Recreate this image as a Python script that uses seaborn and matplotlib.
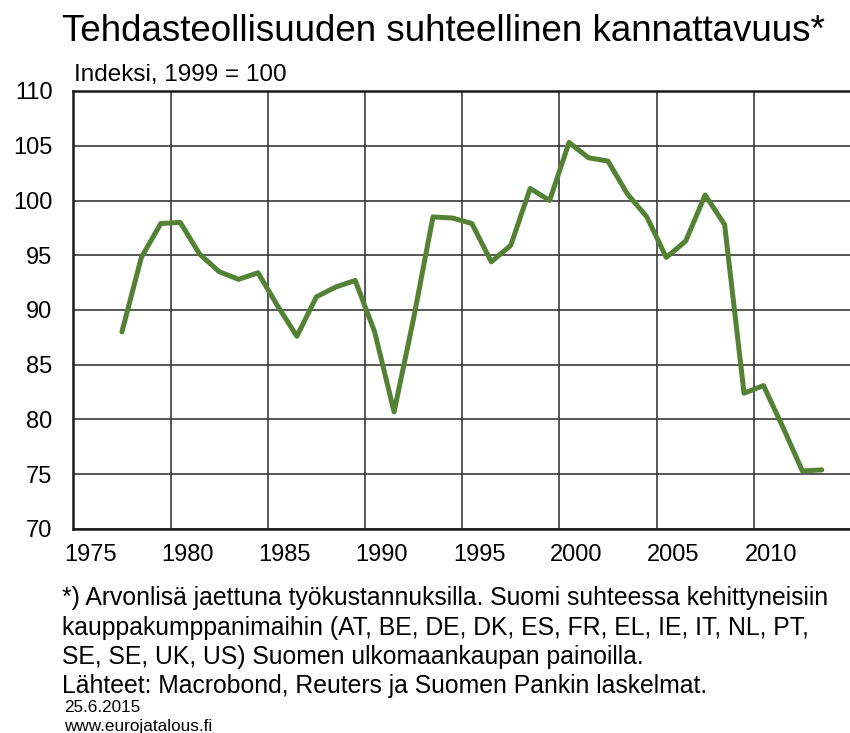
import numpy as np
import pandas as pd
import seaborn as sns
import matplotlib.pyplot as plt
import matplotlib.transforms as mtransforms
from matplotlib.ticker import MultipleLocator

years = list(range(1977, 2014))
kannattavuus = [88.0, 94.8, 97.9, 98.0, 95.1, 93.5, 92.8, 93.4, 90.4, 87.6,
                91.2, 92.1, 92.7, 88.0, 80.7, 89.2, 98.5, 98.4, 97.9, 94.4,
                95.9, 101.1, 100.0, 105.3, 103.9, 103.6, 100.6, 98.5, 94.8, 96.3,
                100.5, 97.8, 82.4, 83.1, 79.3, 75.3, 75.4]
x_ticks = [1975, 1980, 1985, 1990, 1995, 2000, 2005, 2010]
y_ticks = [70, 75, 80, 85, 90, 95, 100, 105, 110]

title = "Tehdasteollisuuden suhteellinen kannattavuus*"
unit = "Indeksi, 1999 = 100"
footnote = ["*) Arvonlisä jaettuna työkustannuksilla. Suomi suhteessa kehittyneisiin",
            "kauppakumppanimaihin (AT, BE, DE, DK, ES, FR, EL, IE, IT, NL, PT,",
            "SE, SE, UK, US) Suomen ulkomaankaupan painoilla.",
            "Lähteet: Macrobond, Reuters ja Suomen Pankin laskelmat."]
date = "25.6.2015"
site = "www.eurojatalous.fi"

df = pd.DataFrame({"vuosi": years, "indeksi": kannattavuus})
# annual values plotted at mid-year
df["x"] = df["vuosi"] + 0.5

sns.set_style("white")
plt.rcParams['font.family'] = ['Liberation Sans', 'DejaVu Sans']
plt.rcParams['text.color'] = 'black'
plt.rcParams['xtick.color'] = 'black'
plt.rcParams['ytick.color'] = 'black'

fig = plt.figure(figsize=(8.5, 7.33), dpi=100)
ax = fig.add_axes([73.3 / 850, 1 - 529 / 733, 1 - 73.3 / 850, (529 - 91) / 733])

sns.lineplot(data=df, x="x", y="indeksi", ax=ax, color="#548235", linewidth=3.6)

ax.set_xlim(1975, 2014.95)
ax.set_ylim(70, 110)
ax.set_xticks(x_ticks)
ax.set_yticks(y_ticks)
ax.xaxis.set_minor_locator(MultipleLocator(1))
ax.grid(True, which="major", color="#3a3a3a", linewidth=1.2)
ax.tick_params(axis="x", which="major", length=0, labelsize=17, pad=11)
ax.tick_params(axis="x", which="minor", direction="in", length=5, width=1, color="#333333")
ax.tick_params(axis="y", length=0, labelsize=17, pad=15)
ax.set_xlabel("")
ax.set_ylabel("")
for lab in ax.get_xticklabels():
    lab.set_transform(lab.get_transform() + mtransforms.ScaledTranslation(0.17, 0, fig.dpi_scale_trans))

for s in ["left", "bottom", "top"]:
    ax.spines[s].set_color("#1a1a1a")
    ax.spines[s].set_linewidth(1.8)
ax.spines["right"].set_visible(False)

fig.text(62 / 850, 1 - 41 / 733, title, fontsize=26.5, va="baseline", ha="left")
fig.text(74 / 850, 1 - 81.5 / 733, unit, fontsize=17.5, va="baseline", ha="left")
for i, line in enumerate(footnote):
    fig.text(62 / 850, 1 - (605 + i * 29.5) / 733, line, fontsize=17.8, va="baseline", ha="left")
fig.text(64 / 850, 1 - 712 / 733, date, fontsize=12.3, va="baseline", ha="left")
fig.text(64 / 850, 1 - 731 / 733, site, fontsize=12.3, va="baseline", ha="left")

fig.savefig("out.png", dpi=100)
